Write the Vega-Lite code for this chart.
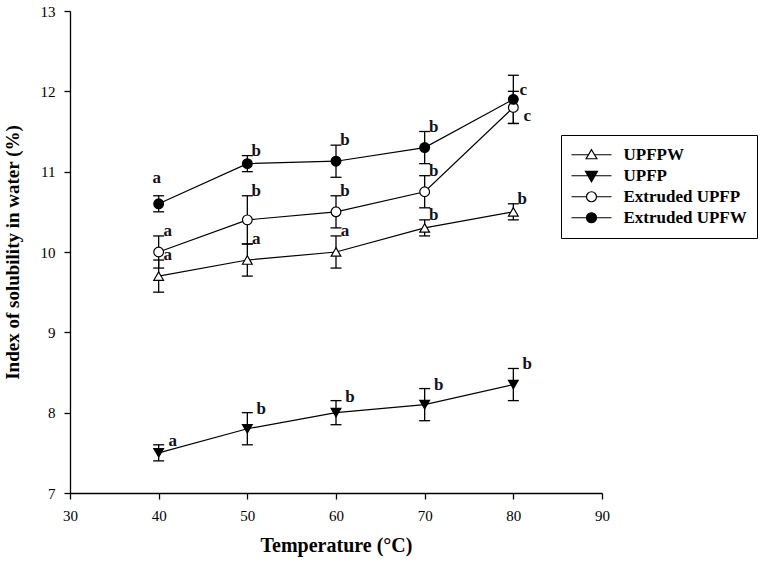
{
  "$schema": "https://vega.github.io/schema/vega-lite/v6.json",
  "background": "white",
  "autosize": "none",
  "padding": {"left": 70, "top": 11, "right": 170, "bottom": 69},
  "width": 532,
  "height": 482,
  "view": {"stroke": null},
  "data": {
    "values": [
      {"series": "UPFPW", "temperature": 40, "value": 9.7, "lower": 9.5, "upper": 9.9, "letter": "a"},
      {"series": "UPFPW", "temperature": 50, "value": 9.9, "lower": 9.7, "upper": 10.1, "letter": "a"},
      {"series": "UPFPW", "temperature": 60, "value": 10.0, "lower": 9.8, "upper": 10.2, "letter": "a"},
      {"series": "UPFPW", "temperature": 70, "value": 10.3, "lower": 10.2, "upper": 10.4, "letter": "b"},
      {"series": "UPFPW", "temperature": 80, "value": 10.5, "lower": 10.4, "upper": 10.6, "letter": "b"},
      {"series": "UPFP", "temperature": 40, "value": 7.5, "lower": 7.4, "upper": 7.6, "letter": "a"},
      {"series": "UPFP", "temperature": 50, "value": 7.8, "lower": 7.6, "upper": 8.0, "letter": "b"},
      {"series": "UPFP", "temperature": 60, "value": 8.0, "lower": 7.85, "upper": 8.15, "letter": "b"},
      {"series": "UPFP", "temperature": 70, "value": 8.1, "lower": 7.9, "upper": 8.3, "letter": "b"},
      {"series": "UPFP", "temperature": 80, "value": 8.35, "lower": 8.15, "upper": 8.55, "letter": "b"},
      {"series": "Extruded UPFP", "temperature": 40, "value": 10.0, "lower": 9.8, "upper": 10.2, "letter": "a"},
      {"series": "Extruded UPFP", "temperature": 50, "value": 10.4, "lower": 10.1, "upper": 10.7, "letter": "b"},
      {"series": "Extruded UPFP", "temperature": 60, "value": 10.5, "lower": 10.3, "upper": 10.7, "letter": "b"},
      {"series": "Extruded UPFP", "temperature": 70, "value": 10.75, "lower": 10.55, "upper": 10.95, "letter": "b"},
      {"series": "Extruded UPFP", "temperature": 80, "value": 11.8, "lower": 11.6, "upper": 12.0, "letter": "c"},
      {"series": "Extruded UPFW", "temperature": 40, "value": 10.6, "lower": 10.5, "upper": 10.7, "letter": "a"},
      {"series": "Extruded UPFW", "temperature": 50, "value": 11.1, "lower": 11.0, "upper": 11.2, "letter": "b"},
      {"series": "Extruded UPFW", "temperature": 60, "value": 11.13, "lower": 10.93, "upper": 11.33, "letter": "b"},
      {"series": "Extruded UPFW", "temperature": 70, "value": 11.3, "lower": 11.1, "upper": 11.5, "letter": "b"},
      {"series": "Extruded UPFW", "temperature": 80, "value": 11.9, "lower": 11.6, "upper": 12.2, "letter": "c"}
    ]
  },
  "encoding": {
    "x": {
      "field": "temperature",
      "type": "quantitative",
      "title": "Temperature (°C)",
      "scale": {"domain": [30, 90], "nice": false, "zero": false},
      "axis": {"values": [30, 40, 50, 60, 70, 80, 90], "format": "d", "labelFont": "Liberation Serif", "titleFont": "Liberation Serif"}
    }
  },
  "layer": [
    {
      "mark": {"type": "rule", "color": "black", "strokeWidth": 1.3},
      "encoding": {
        "y": {"field": "lower", "type": "quantitative", "title": "Index of solubility in water (%)", "scale": {"domain": [7, 13], "nice": false, "zero": false}, "axis": {"values": [7, 8, 9, 10, 11, 12, 13], "format": "d", "labelFont": "Liberation Serif", "titleFont": "Liberation Serif"}},
        "y2": {"field": "upper"}
      }
    },
    {
      "mark": {"type": "tick", "orient": "horizontal", "size": 11, "thickness": 1.3, "color": "black", "opacity": 1},
      "encoding": {
        "y": {"field": "lower", "type": "quantitative", "title": "Index of solubility in water (%)"}
      }
    },
    {
      "mark": {"type": "tick", "orient": "horizontal", "size": 11, "thickness": 1.3, "color": "black", "opacity": 1},
      "encoding": {
        "y": {"field": "upper", "type": "quantitative", "title": "Index of solubility in water (%)"}
      }
    },
    {
      "mark": {"type": "line", "color": "black", "strokeWidth": 1.2},
      "encoding": {
        "y": {"field": "value", "type": "quantitative", "title": "Index of solubility in water (%)"},
        "detail": {"field": "series"}
      }
    },
    {
      "mark": {"type": "point", "filled": true, "opacity": 1, "stroke": "black", "strokeWidth": 1.2, "size": 95},
      "encoding": {
        "y": {"field": "value", "type": "quantitative", "title": "Index of solubility in water (%)"},
        "shape": {"field": "series", "type": "nominal", "legend": null, "scale": {"domain": ["UPFPW", "UPFP", "Extruded UPFP", "Extruded UPFW"], "range": ["triangle-up", "triangle-down", "circle", "circle"]}},
        "fill": {"field": "series", "type": "nominal", "legend": null, "scale": {"domain": ["UPFPW", "UPFP", "Extruded UPFP", "Extruded UPFW"], "range": ["white", "black", "white", "black"]}}
      }
    },
    {
      "transform": [{"filter": "datum.series === 'UPFP'"}],
      "mark": {"type": "text", "font": "Liberation Serif", "fontWeight": "bold", "fontSize": 17, "color": "#111122", "align": "center", "baseline": "middle", "dx": 14, "dy": -4},
      "encoding": {
        "y": {"field": "upper", "type": "quantitative", "title": "Index of solubility in water (%)"},
        "text": {"field": "letter"}
      }
    },
    {
      "transform": [{"filter": "datum.series !== 'UPFP' && !(datum.series === 'Extruded UPFW' && datum.temperature === 40) && !(datum.series !== 'UPFPW' && datum.temperature === 80)"}],
      "mark": {"type": "text", "font": "Liberation Serif", "fontWeight": "bold", "fontSize": 17, "color": "#111122", "align": "center", "baseline": "middle", "dx": 9, "dy": -5},
      "encoding": {
        "y": {"field": "upper", "type": "quantitative", "title": "Index of solubility in water (%)"},
        "text": {"field": "letter"}
      }
    },
    {
      "transform": [{"filter": "datum.series === 'Extruded UPFW' && datum.temperature === 40"}],
      "mark": {"type": "text", "font": "Liberation Serif", "fontWeight": "bold", "fontSize": 17, "color": "#111122", "align": "center", "baseline": "middle", "dx": -2, "dy": -18},
      "encoding": {
        "y": {"field": "upper", "type": "quantitative", "title": "Index of solubility in water (%)"},
        "text": {"field": "letter"}
      }
    },
    {
      "transform": [{"filter": "datum.series === 'Extruded UPFW' && datum.temperature === 80"}],
      "mark": {"type": "text", "font": "Liberation Serif", "fontWeight": "bold", "fontSize": 17, "color": "#111122", "align": "center", "baseline": "middle", "dx": 10, "dy": -9},
      "encoding": {
        "y": {"field": "value", "type": "quantitative", "title": "Index of solubility in water (%)"},
        "text": {"field": "letter"}
      }
    },
    {
      "transform": [{"filter": "datum.series === 'Extruded UPFP' && datum.temperature === 80"}],
      "mark": {"type": "text", "font": "Liberation Serif", "fontWeight": "bold", "fontSize": 17, "color": "#111122", "align": "center", "baseline": "middle", "dx": 14, "dy": 9},
      "encoding": {
        "y": {"field": "value", "type": "quantitative", "title": "Index of solubility in water (%)"},
        "text": {"field": "letter"}
      }
    },
    {
      "mark": {
        "type": "point",
        "filled": true,
        "opacity": 0,
        "fill": {"expr": "indexof(['UPFP', 'Extruded UPFW'], datum.value) >= 0 ? 'black' : 'white'"},
        "stroke": "black",
        "strokeWidth": 1.2,
        "size": 1600
      },
      "encoding": {
        "y": {"field": "value", "type": "quantitative", "title": "Index of solubility in water (%)"},
        "shape": {
          "field": "series",
          "type": "nominal",
          "scale": {
            "domain": ["UPFPW", "UPFP", "Extruded UPFP", "Extruded UPFW"],
            "range": [
              "M-1,0H-0.15M0.15,0H1M0,-0.25L0.27,0.2L-0.27,0.2Z",
              "M-1,0H1M-0.3,-0.22L0.3,-0.22L0,0.3Z",
              "M-1,0H-0.25M0.25,0H1M0.25,0C0.25,0.138,0.138,0.25,0,0.25C-0.138,0.25,-0.25,0.138,-0.25,0C-0.25,-0.138,-0.138,-0.25,0,-0.25C0.138,-0.25,0.25,-0.138,0.25,0Z",
              "M-1,0H1M0.25,0C0.25,0.138,0.138,0.25,0,0.25C-0.138,0.25,-0.25,0.138,-0.25,0C-0.25,-0.138,-0.138,-0.25,0,-0.25C0.138,-0.25,0.25,-0.138,0.25,0Z"
            ]
          },
          "legend": {
            "title": null,
            "orient": "none",
            "legendX": 491,
            "legendY": 124,
            "symbolSize": 1600,
            "clipHeight": 20.5,
            "encode": {"symbols": {"update": {"opacity": {"value": 1}}}}
          }
        }
      }
    }
  ],
  "resolve": {"scale": {"shape": "independent", "fill": "independent"}},
  "config": {
    "axis": {
      "grid": false,
      "domainColor": "black",
      "domainWidth": 1.3,
      "tickColor": "black",
      "tickWidth": 1.3,
      "tickSize": 6,
      "labelFont": "Liberation Serif",
      "labelFontSize": 15,
      "labelColor": "black",
      "labelPadding": 9,
      "titleFont": "Liberation Serif",
      "titleFontWeight": "bold",
      "titleColor": "black"
    },
    "axisX": {"titleFontSize": 20, "titlePadding": 12, "labelFlush": false},
    "axisY": {"titleFontSize": 19, "titlePadding": 18},
    "legend": {
      "strokeColor": "black",
      "padding": 9.5,
      "labelFont": "Liberation Serif",
      "labelFontWeight": "bold",
      "labelFontSize": 17,
      "labelColor": "black",
      "labelOffset": 11,
      "rowPadding": 0,
      "symbolStrokeWidth": 1.2
    }
  }
}
